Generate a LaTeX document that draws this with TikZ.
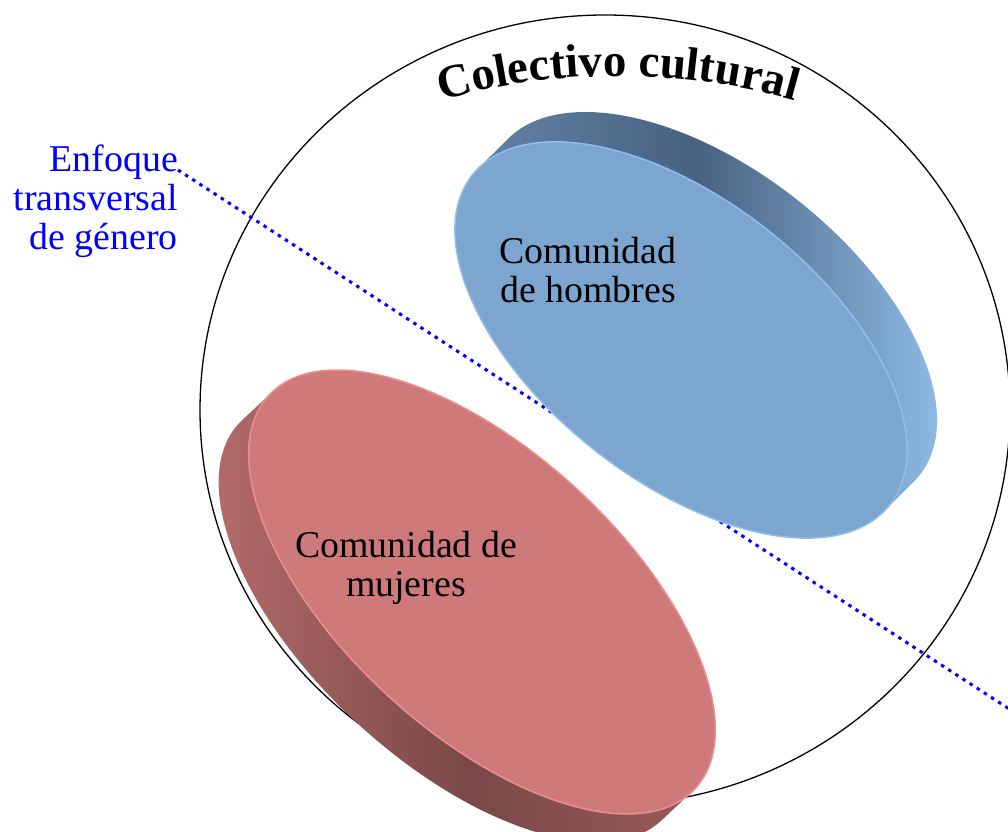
\documentclass[tikz,border=0pt]{standalone}
\usepackage{fontspec}
\setmainfont{Liberation Serif}
\usetikzlibrary{decorations.text}
\definecolor{hface}{RGB}{124,166,208}
\definecolor{hrim}{RGB}{142,190,238}
\definecolor{hsideA}{RGB}{106,138,174}
\definecolor{hsideB}{RGB}{72,98,128}
\definecolor{hsideC}{RGB}{150,196,240}
\definecolor{mface}{RGB}{207,122,122}
\definecolor{mrim}{RGB}{236,142,142}
\definecolor{msideA}{RGB}{186,110,110}
\definecolor{msideB}{RGB}{122,72,72}
\definecolor{msideC}{RGB}{158,94,94}
\newcommand{\titlefont}{\fontsize{47}{47}\selectfont\bfseries}
\begin{document}
\begin{tikzpicture}[>=latex,line join=bevel,
  lbl/.style={draw=none,inner sep=0pt,align=center,font=\fontsize{38}{39}\selectfont},
  cutline/.style={blue,line width=3bp,dash pattern=on 3.5bp off 5bp}]
\useasboundingbox (0bp,0bp) rectangle (1008bp,832bp);
%%
\draw [black,line width=1.3bp] (605bp,422bp) ellipse (405bp and 395bp);
\path [decorate,decoration={text along path,text align=center,
    text={|\titlefont|Colectivo cultural}}]
  (618bp,106bp) ++(112:650bp) arc [start angle=112,end angle=68,radius=650bp];
%
\node (node_0) at (178bp,631bp) [lbl,anchor=east,align=right,text=blue] {Enfoque\\transversal\\de género};
\coordinate (cut_0) at (178bp,662bp);
\coordinate (cut_1) at (1020bp,116bp);
\draw [cutline] (cut_0) -- (cut_1);
%
\begin{scope}[shift={(681bp,492bp)},rotate=-38.3]
  \shade [left color=hsideA,right color=hsideC,middle color=hsideB]
    \foreach \k in {0,...,20} {(\k*0.25bp,\k*2.1bp) ellipse (266bp and 140bp)};
  \filldraw [fill=hface,draw=hrim,line width=1.5bp] (0bp,0bp) ellipse (266bp and 140bp);
\end{scope}
\begin{scope}[shift={(482bp,240bp)},rotate=-42.7]
  \shade [left color=msideA,right color=msideC,middle color=msideB]
    \foreach \k in {0,...,20} {(-\k*0.15bp,-\k*2.05bp) ellipse (290bp and 140bp)};
  \filldraw [fill=mface,draw=mrim,line width=1.5bp] (0bp,0bp) ellipse (290bp and 140bp);
\end{scope}
%
\node (node_1) at (588bp,562bp) [lbl] {Comunidad\\de hombres};
\node (node_2) at (406bp,264bp) [lbl] {Comunidad de\\mujeres};
%
\end{tikzpicture}
\end{document}
